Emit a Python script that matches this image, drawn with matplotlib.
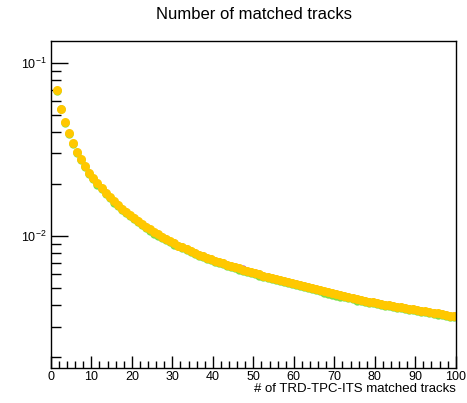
import numpy as np
import matplotlib
matplotlib.use("Agg")
import matplotlib.pyplot as plt
from matplotlib.ticker import MultipleLocator, LogLocator, NullFormatter

plt.rcParams["font.family"] = ["Liberation Sans", "DejaVu Sans"]
plt.rcParams["mathtext.fontset"] = "custom"
plt.rcParams["mathtext.rm"] = "Liberation Sans"
plt.rcParams["mathtext.it"] = "Liberation Sans"

# bin centres: 1.5 ... 99.5
n_tracks = np.arange(1, 100) + 0.5

frac_gold = [
    0.0695, 0.0542, 0.0456, 0.0391, 0.0342, 0.0306, 0.0280, 0.0254, 0.0232, 0.0215,
    0.0201, 0.0189, 0.0178, 0.0168, 0.0159, 0.0151, 0.0144, 0.0138, 0.0132, 0.0127,
    0.0122, 0.0117, 0.0113, 0.0109, 0.0105, 0.0102, 0.0099, 0.0096, 0.0093, 0.0091,
    0.0088, 0.0086, 0.0084, 0.0082, 0.0080, 0.0078, 0.0077, 0.0075, 0.0074, 0.0072,
    0.0071, 0.0070, 0.0068, 0.0067, 0.0066, 0.0065, 0.0064, 0.0063, 0.0062, 0.0061,
    0.0060, 0.0059, 0.0058, 0.00573, 0.00565, 0.00557, 0.00549, 0.00541, 0.00534, 0.00527,
    0.00520, 0.00513, 0.00506, 0.00499, 0.00492, 0.00485, 0.00478, 0.00472, 0.00466, 0.00460,
    0.00454, 0.00448, 0.00443, 0.00436, 0.00430, 0.00426, 0.00422, 0.00418, 0.00414, 0.00410,
    0.00406, 0.00402, 0.00399, 0.00395, 0.00391, 0.00388, 0.00384, 0.00381, 0.00377, 0.00374,
    0.00370, 0.00367, 0.00364, 0.00360, 0.00357, 0.00354, 0.00350, 0.00347, 0.00344,
]

frac_green = [
    0.0690, 0.0538, 0.0452, 0.0387, 0.0338, 0.0303, 0.0276, 0.0251, 0.0229, 0.0212,
    0.0198, 0.0186, 0.0175, 0.0166, 0.0156, 0.0149, 0.0142, 0.0136, 0.0130, 0.0125,
    0.0120, 0.0115, 0.0111, 0.0107, 0.0103, 0.0100, 0.0097, 0.0095, 0.0092, 0.0089,
    0.0087, 0.0085, 0.0083, 0.0081, 0.0079, 0.0077, 0.0076, 0.0074, 0.0073, 0.0071,
    0.0070, 0.0069, 0.0067, 0.0066, 0.0065, 0.0064, 0.0063, 0.0062, 0.0061, 0.0060,
    0.00591, 0.00582, 0.00572, 0.00565, 0.00556, 0.00549, 0.00540, 0.00533, 0.00526, 0.00519,
    0.00512, 0.00506, 0.00498, 0.00492, 0.00485, 0.00478, 0.00471, 0.00465, 0.00459, 0.00453,
    0.00447, 0.00442, 0.00436, 0.00430, 0.00424, 0.00420, 0.00416, 0.00412, 0.00408, 0.00404,
    0.00400, 0.00396, 0.00393, 0.00389, 0.00386, 0.00382, 0.00379, 0.00375, 0.00372, 0.00368,
    0.00365, 0.00362, 0.00358, 0.00355, 0.00352, 0.00348, 0.00345, 0.00342, 0.00339,
]

frac_purple = [
    0.0698, 0.0545, 0.0458, 0.0389, 0.0340, 0.0305, 0.0279, 0.0255, 0.0233, 0.0216,
    0.0202, 0.0190, 0.0179, 0.0169, 0.0160, 0.0152, 0.0145, 0.0139, 0.0133, 0.0128,
    0.0123, 0.0118, 0.0114, 0.0110, 0.0106, 0.0103, 0.0100, 0.0097, 0.0094, 0.0092,
    0.0089, 0.0087, 0.0085, 0.0083, 0.0081, 0.0079, 0.0078, 0.0076, 0.0075, 0.0073,
    0.0072, 0.0071, 0.0069, 0.0068, 0.0067, 0.0066, 0.0065, 0.0064, 0.0063, 0.0062,
    0.00608, 0.00598, 0.00588, 0.00580, 0.00572, 0.00563, 0.00556, 0.00548, 0.00540, 0.00533,
    0.00526, 0.00519, 0.00512, 0.00505, 0.00498, 0.00491, 0.00484, 0.00478, 0.00472, 0.00466,
    0.00460, 0.00454, 0.00448, 0.00442, 0.00436, 0.00431, 0.00427, 0.00423, 0.00419, 0.00415,
    0.00411, 0.00407, 0.00403, 0.00400, 0.00396, 0.00392, 0.00389, 0.00385, 0.00382, 0.00378,
    0.00375, 0.00371, 0.00368, 0.00365, 0.00361, 0.00358, 0.00355, 0.00351, 0.00348,
]

fig = plt.figure(figsize=(4.67, 4.03), dpi=100)
ax = fig.add_axes([0.109, 0.087, 0.867, 0.811])

ax.plot(n_tracks, frac_purple, "o", color="#b44fb4", ms=4.5, mew=0)
ax.plot(n_tracks, frac_green, "o", color="#7fe04a", ms=6, mew=0)
ax.plot(n_tracks, frac_gold, "o", color="#ffc800", ms=6.5, mew=0)

ax.set_yscale("log")
ax.set_xlim(0, 100)
ax.set_ylim(0.00173, 0.1334)

ax.xaxis.set_major_locator(MultipleLocator(10))
ax.xaxis.set_minor_locator(MultipleLocator(2))
ax.yaxis.set_major_locator(LogLocator(base=10))
ax.yaxis.set_minor_locator(LogLocator(base=10, subs=np.arange(2, 10)))
ax.yaxis.set_minor_formatter(NullFormatter())

ax.tick_params(axis="x", which="major", direction="in", length=9, width=1, labelsize=9, pad=2)
ax.tick_params(axis="x", which="minor", direction="in", length=5, width=1)
ax.tick_params(axis="y", which="major", direction="in", length=12.5, width=1, labelsize=9, pad=3)
ax.tick_params(axis="y", which="minor", direction="in", length=7, width=1)
for sp in ax.spines.values():
    sp.set_linewidth(1)

ax.set_xlabel("# of TRD-TPC-ITS matched tracks", fontsize=9.5, loc="right", labelpad=0)
fig.text(0.543, 0.963, "Number of matched tracks", ha="center", va="center", fontsize=12)

fig.savefig("out.png", dpi=100)
